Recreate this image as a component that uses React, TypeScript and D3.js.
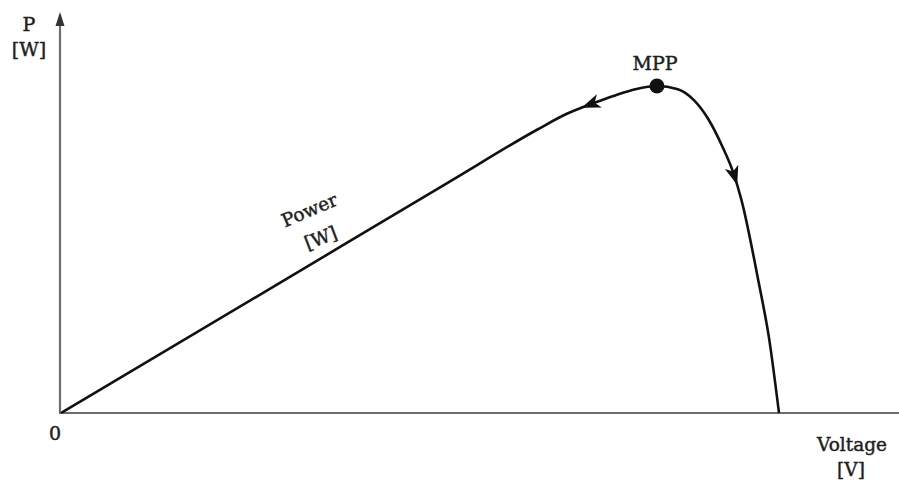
import React, { useEffect, useRef } from "react";
import * as d3 from "d3";

const voltage = [0, 6, 12, 14.6, 15.5, 16.3, 17.0, 17.6, 18.26, 18.9, 19.4, 19.85, 20.25, 20.6, 20.85, 21.38, 21.69, 22.0];
const power = [0, 35.6, 71.3, 86.7, 91.5, 94.7, 97.2, 99.0, 100, 99.0, 95.6, 89.6, 81.8, 73.5, 65.1, 39.8, 23.2, 0];
const mppIndex = 8;
const arrowTipVoltages = [15.95, 20.72];
const arrowDirections = [-1, 1];

const W = 899;
const H = 482;
const FONT = "'DejaVu Serif', 'Liberation Serif', serif";

export default function App() {
  const ref = useRef<SVGSVGElement | null>(null);

  useEffect(() => {
    const svg = d3.select(ref.current);
    svg.selectAll("*").remove();

    const x = d3.scaleLinear().domain([0, 22]).range([61, 779]);
    const y = d3.scaleLinear().domain([0, 100]).range([413, 86]);
    const axisColor = "#6e6e6e";
    const textColor = "#1e1e1e";

    // axes
    svg.append("line").attr("x1", x(0)).attr("x2", W).attr("y1", y(0)).attr("y2", y(0))
      .attr("stroke", axisColor).attr("stroke-width", 2.2);
    const yTop = 12;
    svg.append("line").attr("x1", x(0) - 1).attr("x2", x(0) - 1).attr("y1", y(0) + 1).attr("y2", yTop + 8)
      .attr("stroke", axisColor).attr("stroke-width", 2.2);
    svg.append("path")
      .attr("d", `M${x(0) - 1},${yTop} L${x(0) - 5.5},${yTop + 14} L${x(0) + 3.5},${yTop + 14} Z`)
      .attr("fill", "#333");

    const pts: [number, number][] = voltage.map((v, i) => [x(v), y(power[i])]);
    const line = d3.line().curve(d3.curveMonotoneX);
    const path = svg.append("path").attr("d", line(pts) as string)
      .attr("fill", "none").attr("stroke", "#111").attr("stroke-width", 2.6);

    const node = path.node() as SVGPathElement;
    const total = node.getTotalLength();
    arrowTipVoltages.forEach((v, k) => {
      const tx = x(v);
      let lo = 0, hi = total;
      for (let it = 0; it < 40; it++) {
        const mid = (lo + hi) / 2;
        if (node.getPointAtLength(mid).x < tx) lo = mid; else hi = mid;
      }
      const p = node.getPointAtLength(lo);
      const q = node.getPointAtLength(Math.max(0, Math.min(total, lo - arrowDirections[k] * 8)));
      const ang = (Math.atan2(p.y - q.y, p.x - q.x) * 180) / Math.PI;
      svg.append("path")
        .attr("d", "M0,0 L-19,-7 L-14,0 L-19,7 Z")
        .attr("fill", "#111")
        .attr("transform", `translate(${p.x},${p.y}) rotate(${ang})`);
    });

    svg.append("circle").attr("cx", x(voltage[mppIndex])).attr("cy", y(power[mppIndex])).attr("r", 7.5).attr("fill", "#111");

    const text = (t: string, tx: number, ty: number, size: number, anchor = "middle", rot = 0) =>
      svg.append("text").text(t).attr("x", tx).attr("y", ty)
        .attr("font-family", FONT).attr("font-size", size).attr("fill", textColor)
        .attr("stroke", textColor).attr("stroke-width", 0.45)
        .attr("text-anchor", anchor)
        .attr("transform", rot ? `rotate(${rot},${tx},${ty})` : null);

    text("P", 29, 31, 19);
    text("[W]", 29, 56, 19);
    text("0", 55, 440, 19);
    text("Voltage", 852, 451, 18.5);
    text("[V]", 851, 476, 18.5);
    text("MPP", 655, 70, 19);
    text("Power", 312, 216, 18.5, "middle", -23);
    text("[W]", 323, 244, 18.5, "middle", -21);
  }, []);

  return (
    <svg ref={ref} width={W} height={H} style={{ position: "absolute", left: 0, top: 0, background: "#fff" }} />
  );
}
